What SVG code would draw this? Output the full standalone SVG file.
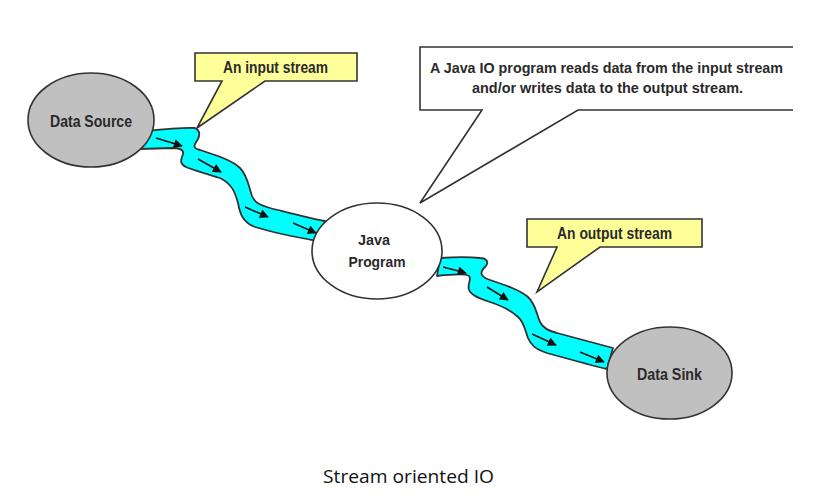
<svg xmlns="http://www.w3.org/2000/svg" width="831" height="499" viewBox="0 0 831 499">
<defs>
<marker id="ah" viewBox="0 0 10 10" refX="9" refY="5" markerWidth="10" markerHeight="9" markerUnits="userSpaceOnUse" orient="auto">
<path d="M0,0 L10,5 L0,10 Z" fill="#111"/>
</marker>
<style>
.stream{fill:#00ffff;stroke:#333;stroke-width:1.8;stroke-linejoin:round}
.flow{stroke:#111;stroke-width:1.6;fill:none;marker-end:url(#ah)}
.callout{fill:#ffff99;stroke:#333;stroke-width:1.6;stroke-linejoin:miter}
.node{stroke:#333;stroke-width:1.6}
.gray{fill:#c0c0c0}
.white{fill:#ffffff}
.lbl{font-family:"Liberation Sans",Arial,sans-serif;font-weight:bold;fill:#2a2a2a;text-anchor:middle}
.cap{font-family:"Open Sans","Noto Sans","Liberation Sans",sans-serif;fill:#111;text-anchor:middle;font-size:18px}
</style>
</defs>
<rect width="831" height="499" fill="#ffffff"/>

<g id="connectors">
<path class="stream" d="M145,131 C165,129 185,127 195,128 C200,130 200,135 198,139 C195,144 191,148 200,150 C215,155 232,160 240,168 C248,176 249,188 252,196 C255,203 260,205 270,208 C290,213 308,218 325,221 L317,241 C290,236 268,231 255,227 C244,223 240,215 238,203 C235,192 232,184 220,178 C205,173 192,170 186,167 C178,163 182,158 183,154 C184,149 178,148 172,148 L140,149 Z"/>
<path class="stream" d="M440,258 C455,257 470,257 480,258 C486,258 490,262 485,267 C481,271 478,276 490,280 C505,285 520,290 528,297 C535,303 536,312 540,322 C543,328 548,331 557,333 C575,338 595,343 613,348 L607,369 C590,365 565,358 547,353 C535,349 531,345 528,338 C525,330 524,322 518,317 C512,311 505,307 490,302 C478,298 471,295 469,290 C467,284 472,279 469,276 C466,274 455,274 437,276 Z"/>
<path class="flow" d="M156,138 L182,146"/>
<path class="flow" d="M198,159 L221,172"/>
<path class="flow" d="M245,207 L268,217"/>
<path class="flow" d="M293,223 L316,233"/>
<path class="flow" d="M443,267 L466,273"/>
<path class="flow" d="M487,287 L508,300"/>
<path class="flow" d="M532,334 L556,345"/>
<path class="flow" d="M580,352 L604,362"/>
</g>

<g id="data-source">
<ellipse class="node gray" cx="91" cy="120" rx="63" ry="47"/>
<text class="lbl" x="91" y="127" font-size="16" textLength="82" lengthAdjust="spacingAndGlyphs">Data Source</text>
</g>

<g id="java-program">
<ellipse class="node white" cx="377" cy="251" rx="65" ry="48"/>
<text class="lbl" x="374" y="245" font-size="15" textLength="32" lengthAdjust="spacingAndGlyphs">Java</text>
<text class="lbl" x="377" y="267" font-size="15" textLength="57" lengthAdjust="spacingAndGlyphs">Program</text>
</g>

<g id="data-sink">
<ellipse class="node gray" cx="669.5" cy="373" rx="62.5" ry="46"/>
<text class="lbl" x="669.5" y="380" font-size="16" textLength="65" lengthAdjust="spacingAndGlyphs">Data Sink</text>
</g>

<g id="input-stream-callout">
<path class="callout" d="M195,53 H357 V81 H265 L197,128 L222,81 H195 Z"/>
<text class="lbl" x="275.5" y="73" font-size="16" textLength="105" lengthAdjust="spacingAndGlyphs">An input stream</text>
</g>

<g id="output-stream-callout">
<path class="callout" d="M527,219 H702 V247 H600 L537,292 L557,247 H527 Z"/>
<text class="lbl" x="614.5" y="239" font-size="16" textLength="115" lengthAdjust="spacingAndGlyphs">An output stream</text>
</g>

<g id="program-callout">
<path d="M793,47 H420 V110 H482 L420,203 L578,110 H793 Z" fill="#ffffff" stroke="none"/>
<path d="M793,47 H420 V110 H482 L420,203 L578,110 H793" fill="none" stroke="#333" stroke-width="1.6"/>
<text class="lbl" x="606.5" y="73" font-size="15" textLength="353" lengthAdjust="spacingAndGlyphs">A Java IO program reads data from the input stream</text>
<text class="lbl" x="607.5" y="93" font-size="15" textLength="271" lengthAdjust="spacingAndGlyphs">and/or writes data to the output stream.</text>
</g>

<text class="cap" x="408.5" y="483" textLength="171" lengthAdjust="spacingAndGlyphs">Stream oriented IO</text>
</svg>
